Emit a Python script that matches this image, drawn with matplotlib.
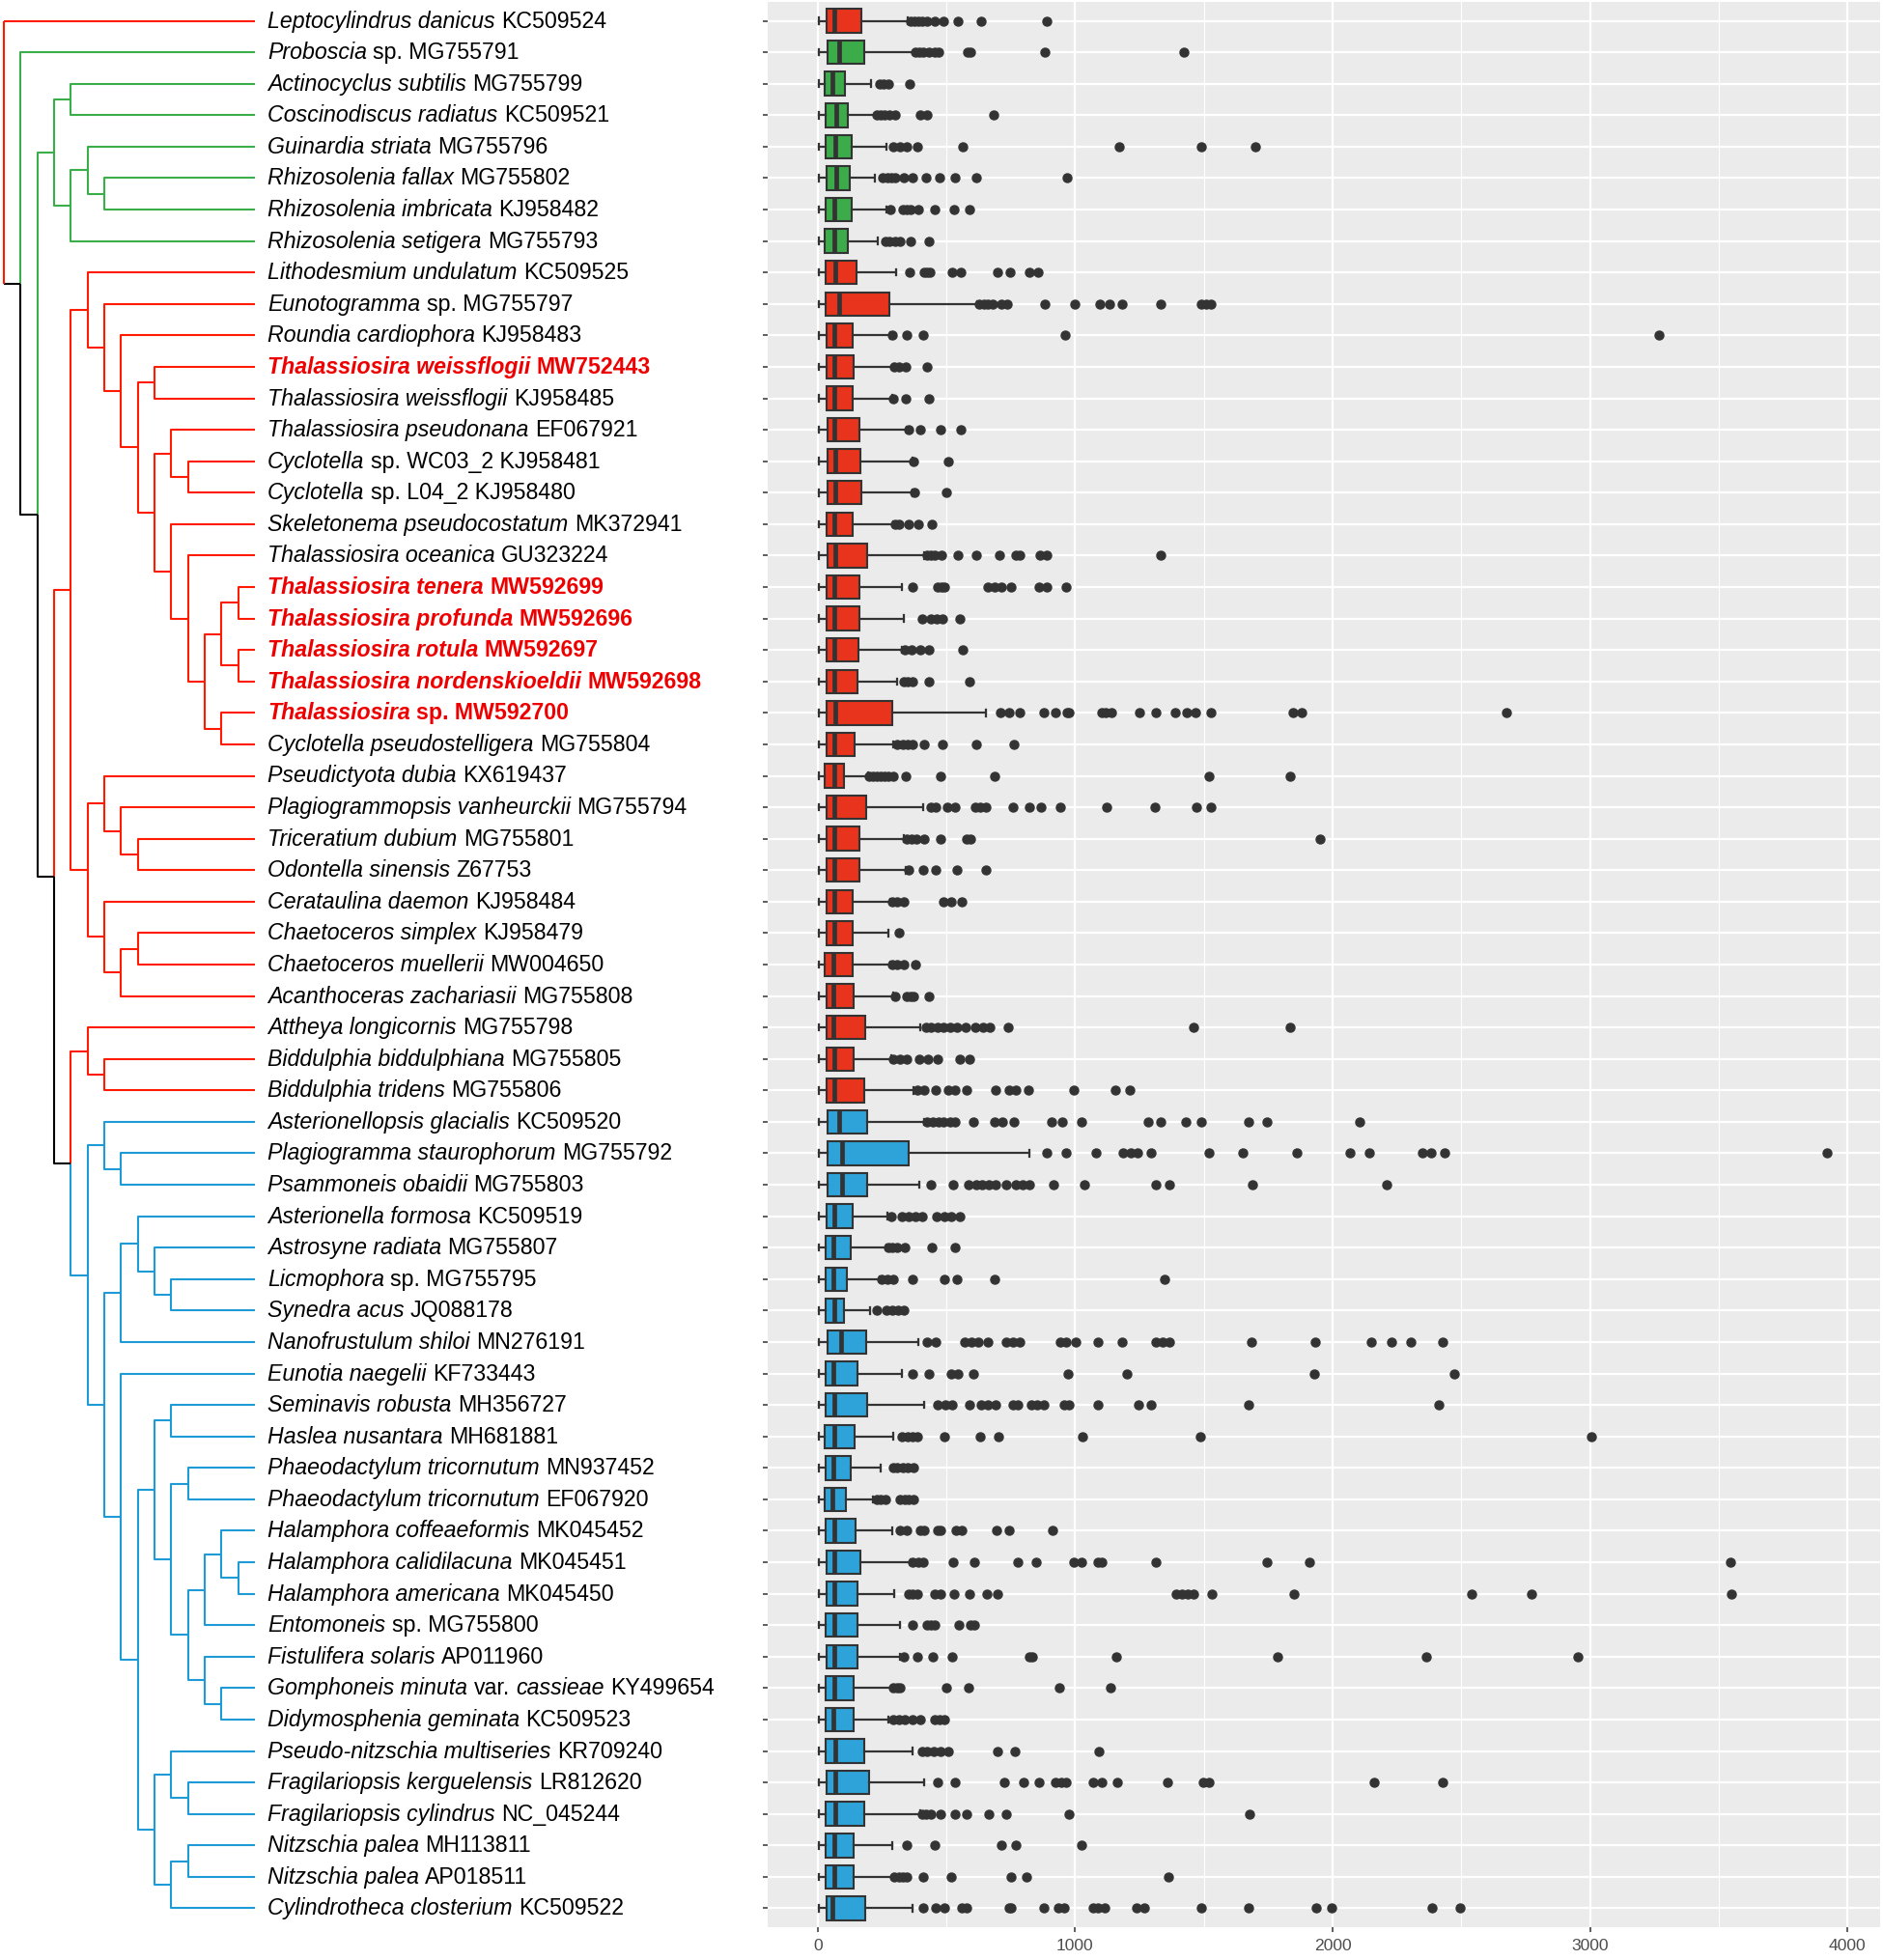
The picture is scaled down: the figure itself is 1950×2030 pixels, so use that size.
import matplotlib
matplotlib.use("Agg")
import matplotlib.pyplot as plt
import numpy as np

plt.rcParams['font.family'] = ['Liberation Sans', 'DejaVu Sans']

# tip labels, top to bottom; *...* marks the italic part
labels = [
    "*Leptocylindrus danicus* KC509524", "*Proboscia* sp. MG755791",
    "*Actinocyclus subtilis* MG755799", "*Coscinodiscus radiatus* KC509521",
    "*Guinardia striata* MG755796", "*Rhizosolenia fallax* MG755802",
    "*Rhizosolenia imbricata* KJ958482", "*Rhizosolenia setigera* MG755793",
    "*Lithodesmium undulatum* KC509525", "*Eunotogramma* sp. MG755797",
    "*Roundia cardiophora* KJ958483", "*Thalassiosira weissflogii* MW752443",
    "*Thalassiosira weissflogii* KJ958485", "*Thalassiosira pseudonana* EF067921",
    "*Cyclotella* sp. WC03_2 KJ958481", "*Cyclotella* sp. L04_2 KJ958480",
    "*Skeletonema pseudocostatum* MK372941", "*Thalassiosira oceanica* GU323224",
    "*Thalassiosira tenera* MW592699", "*Thalassiosira profunda* MW592696",
    "*Thalassiosira rotula* MW592697", "*Thalassiosira nordenskioeldii* MW592698",
    "*Thalassiosira* sp. MW592700", "*Cyclotella pseudostelligera* MG755804",
    "*Pseudictyota dubia* KX619437", "*Plagiogrammopsis vanheurckii* MG755794",
    "*Triceratium dubium* MG755801", "*Odontella sinensis* Z67753",
    "*Cerataulina daemon* KJ958484", "*Chaetoceros simplex* KJ958479",
    "*Chaetoceros muellerii* MW004650", "*Acanthoceras zachariasii* MG755808",
    "*Attheya longicornis* MG755798", "*Biddulphia biddulphiana* MG755805",
    "*Biddulphia tridens* MG755806", "*Asterionellopsis glacialis* KC509520",
    "*Plagiogramma staurophorum* MG755792", "*Psammoneis obaidii* MG755803",
    "*Asterionella formosa* KC509519", "*Astrosyne radiata* MG755807",
    "*Licmophora* sp. MG755795", "*Synedra acus* JQ088178",
    "*Nanofrustulum shiloi* MN276191", "*Eunotia naegelii* KF733443",
    "*Seminavis robusta* MH356727", "*Haslea nusantara* MH681881",
    "*Phaeodactylum tricornutum* MN937452", "*Phaeodactylum tricornutum* EF067920",
    "*Halamphora coffeaeformis* MK045452", "*Halamphora calidilacuna* MK045451",
    "*Halamphora americana* MK045450", "*Entomoneis* sp. MG755800",
    "*Fistulifera solaris* AP011960", "*Gomphoneis minuta* var. *cassieae* KY499654",
    "*Didymosphenia geminata* KC509523", "*Pseudo-nitzschia multiseries* KR709240",
    "*Fragilariopsis kerguelensis* LR812620", "*Fragilariopsis cylindrus* NC_045244",
    "*Nitzschia palea* MH113811", "*Nitzschia palea* AP018511",
    "*Cylindrotheca closterium* KC509522",
]
highlight = [11, 18, 19, 20, 21, 22]

# clade of each tip: r / g / b
groups = list("rggggggg" + "r" * 27 + "b" * 26)

# tree topology (tip indices), drawn as a cladogram
tree = (0, (1, (
    ((2, 3), ((4, (5, 6)), 7)),
    (
        ((8, (9, (10, ((11, 12), ((13, (14, 15)),
                                  (16, (17, (((18, 19), (20, 21)), (22, 23))))))))),
         ((24, (25, (26, 27))), (28, ((29, 30), 31)))),
        ((32, (33, 34)),
         ((35, (36, 37)),
          (((38, (39, (40, 41))), 42),
           (43, (((44, 45), ((46, 47), (((48, (49, 50)), 51), (52, (53, 54))))),
                 ((55, (56, 57)), ((58, 59), 60)))))))
    )
)))

# boxplot statistics per tip
q1 = [34, 40, 27, 32, 31, 34, 30, 29, 30, 31,
      34, 34, 34, 37, 37, 37, 34, 37, 34, 34,
      34, 34, 34, 34, 26, 34, 34, 34, 34, 34,
      29, 34, 34, 34, 34, 40, 40, 40, 34, 32,
      32, 32, 37, 32, 32, 26, 32, 29, 32, 34,
      34, 32, 34, 32, 32, 32, 34, 32, 32, 32, 34]
med = [66, 82, 56, 72, 70, 72, 66, 66, 69, 84,
       64, 64, 64, 64, 69, 69, 66, 69, 64, 66,
       64, 64, 69, 64, 64, 64, 64, 64, 64, 64,
       61, 61, 61, 64, 64, 85, 93, 93, 64, 61,
       61, 66, 90, 61, 64, 64, 61, 56, 64, 64,
       64, 64, 64, 64, 61, 69, 69, 69, 64, 64, 56]
q3 = [169, 181, 106, 116, 134, 125, 134, 116, 150, 278,
      135, 138, 135, 162, 167, 170, 135, 193, 162, 164,
      159, 154, 289, 143, 101, 188, 162, 164, 135, 135,
      135, 140, 183, 140, 180, 193, 355, 193, 135, 127,
      114, 103, 188, 154, 193, 143, 127, 109, 148, 167,
      156, 156, 156, 138, 140, 180, 201, 180, 138, 138, 183]
whislo = [5] * 61
whishi = [350, 375, 207, 228, 269, 221, 269, 235, 304, 621,
          281, 294, 289, 347, 368, 370, 294, 413, 328, 334,
          326, 307, 652, 294, 196, 408, 334, 342, 281, 275,
          281, 294, 400, 286, 373, 413, 824, 395, 272, 268,
          241, 204, 392, 328, 413, 294, 246, 215, 289, 360,
          299, 320, 320, 289, 275, 368, 413, 400, 289, 294, 368]
fliers = [
    [360, 375, 390, 405, 426, 453, 490, 546, 633, 890],
    [381, 395, 410, 431, 456, 470, 581, 594, 882, 1421],
    [241, 256, 275, 356],
    [231, 245, 260, 280, 300, 400, 426, 684],
    [294, 320, 347, 387, 562, 1171, 1491, 1700],
    [254, 270, 285, 300, 334, 368, 421, 474, 535, 617, 967],
    [281, 331, 345, 362, 390, 453, 531, 588],
    [262, 280, 300, 321, 360, 431],
    [359, 412, 425, 437, 522, 556, 700, 746, 822, 855],
    [629, 645, 660, 681, 712, 737, 884, 1000, 1096, 1134, 1181, 1332, 1490, 1510, 1526],
    [290, 347, 408, 962, 3269],
    [299, 315, 342, 426],
    [295, 342, 434],
    [352, 400, 479, 556],
    [373, 506],
    [376, 498],
    [300, 315, 355, 392, 445],
    [426, 440, 455, 480, 546, 615, 705, 771, 784, 864, 890, 1332],
    [368, 466, 480, 493, 660, 686, 712, 750, 858, 890, 964],
    [405, 440, 462, 485, 554],
    [340, 365, 400, 432, 564],
    [334, 350, 368, 432, 588],
    [710, 744, 784, 877, 925, 970, 977, 1102, 1120, 1142, 1248, 1314, 1388, 1433,
     1468, 1526, 1846, 1881, 2675],
    [307, 330, 350, 368, 413, 485, 615, 763],
    [201, 215, 230, 245, 260, 275, 294, 344, 479, 689, 1520, 1833],
    [440, 460, 505, 532, 612, 630, 652, 760, 824, 869, 943, 1121, 1309, 1470, 1526],
    [347, 365, 385, 413, 479, 580, 593, 1952],
    [355, 408, 458, 540, 652],
    [290, 310, 334, 487, 519, 559],
    [315],
    [289, 310, 334, 381],
    [302, 347, 360, 373, 432],
    [421, 440, 465, 490, 515, 540, 575, 612, 644, 670, 739, 1460, 1836],
    [294, 320, 347, 395, 430, 466, 551, 591],
    [387, 413, 458, 506, 532, 577, 691, 744, 771, 819, 996, 1155, 1213],
    [426, 447, 468, 490, 515, 532, 604, 686, 718, 763, 909, 951, 1025, 1282, 1332,
     1428, 1489, 1672, 1746, 2103],
    [890, 964, 1081, 1187, 1215, 1242, 1295, 1521, 1650, 1862, 2069, 2143, 2347,
     2382, 2434, 3921],
    [440, 525, 585, 617, 640, 665, 692, 731, 771, 797, 824, 917, 1036, 1314, 1367,
     1690, 2209],
    [285, 326, 352, 378, 405, 461, 493, 519, 551],
    [275, 290, 307, 339, 445, 532],
    [250, 270, 294, 368, 493, 540, 686, 1348],
    [228, 268, 290, 312, 334],
    [426, 458, 572, 598, 625, 660, 731, 757, 784, 943, 965, 1004, 1089, 1181, 1314,
     1340, 1367, 1685, 1931, 2148, 2228, 2302, 2426],
    [368, 434, 519, 545, 604, 972, 1200, 1928, 2474],
    [466, 495, 524, 591, 633, 660, 691, 758, 779, 829, 853, 877, 956, 977, 1089,
     1245, 1295, 1674, 2413],
    [328, 350, 370, 387, 493, 631, 702, 1028, 1486, 3004],
    [294, 310, 330, 350, 373],
    [228, 245, 262, 320, 340, 355, 373],
    [320, 345, 400, 413, 466, 479, 537, 559, 694, 744, 914],
    [368, 390, 408, 527, 607, 779, 850, 996, 1023, 1089, 1102, 1314, 1746, 1910, 3544],
    [352, 370, 387, 453, 479, 530, 591, 657, 699, 1393, 1415, 1438, 1460, 1531,
     1849, 2540, 2771, 3550],
    [368, 426, 440, 453, 548, 593, 607],
    [334, 387, 448, 522, 824, 832, 1160, 1785, 2363, 2951],
    [294, 310, 320, 498, 585, 938, 1139],
    [294, 315, 339, 368, 400, 453, 475, 493],
    [405, 425, 450, 478, 506, 697, 766, 1091],
    [466, 532, 726, 800, 858, 925, 945, 964, 1070, 1102, 1163, 1359, 1499, 1520,
     2162, 2426],
    [405, 420, 440, 479, 532, 577, 665, 734, 977, 1677],
    [347, 456, 713, 771, 1025],
    [299, 315, 330, 347, 408, 519, 752, 811, 1364],
    [408, 458, 493, 559, 577, 744, 752, 877, 935, 956, 1070, 1090, 1115, 1240, 1269,
     1489, 1674, 1936, 1997, 2387, 2493],
]

tree_col = {'r': '#FF1A00', 'g': '#3AAF49', 'b': '#1E9BD7', 'mix': '#000000'}
box_col = {'r': '#E8341C', 'g': '#3CAB4A', 'b': '#2EA3D9'}
label_red = '#EE0000'
dark = '#333333'

W, H = 1950, 2031
n = len(labels)
fig = plt.figure(figsize=(W / 100, H / 100), dpi=100)
bottom, top = (H - 1997) / H, (H - 3) / H
ax = fig.add_axes([795 / W, bottom, (1947 - 795) / W, top - bottom])
axt = fig.add_axes([0, bottom, 795 / W, top - bottom])
ylim = (n - 1 + 0.6, -0.6)

# ---- boxplots ----
stats = []
for i in range(n):
    stats.append(dict(q1=q1[i], med=med[i], q3=q3[i], whislo=whislo[i],
                      whishi=whishi[i], fliers=fliers[i]))
bp = ax.bxp(stats, positions=np.arange(n), widths=0.75, orientation='horizontal',
            patch_artist=True, capwidths=0.2, manage_ticks=False,
            boxprops=dict(edgecolor=dark, linewidth=1.5),
            whiskerprops=dict(color=dark, linewidth=1.6),
            capprops=dict(color=dark, linewidth=1.6),
            medianprops=dict(color=dark, linewidth=3.4, solid_capstyle='butt'),
            flierprops=dict(marker='o', markerfacecolor=dark, markeredgecolor=dark,
                            markersize=6.5, linestyle='none'))
for patch, g in zip(bp['boxes'], groups):
    patch.set_facecolor(box_col[g])

ax.set_facecolor('#EBEBEB')
ax.set_xlim(-194, 4126)
ax.set_ylim(*ylim)
ax.set_xticks([0, 1000, 2000, 3000, 4000])
ax.set_xticks([500, 1500, 2500, 3500], minor=True)
ax.set_yticks(np.arange(n))
ax.set_yticklabels([])
ax.grid(which='major', color='white', linewidth=1.6)
ax.grid(which='minor', axis='x', color='white', linewidth=0.8)
ax.set_axisbelow(True)
for s in ax.spines.values():
    s.set_visible(False)
ax.tick_params(axis='both', which='major', length=3.6, width=1.1, color=dark,
               labelsize=12.6, labelcolor='#4D4D4D', pad=4)
ax.tick_params(which='minor', length=0)

# ---- tree ----
LEAF = 15
lw_tree = 1.5


def clade_colour(gs):
    return tree_col[next(iter(gs))] if len(gs) == 1 else tree_col['mix']


def draw(node, depth):
    if isinstance(node, int):
        return float(node), {groups[node]}
    kids = [draw(c, depth + 1) for c in node]
    y = np.mean([k[0] for k in kids])
    gs = set().union(*[k[1] for k in kids])
    for child, (cy, cg) in zip(node, kids):
        cx = LEAF if isinstance(child, int) else depth + 1
        col = clade_colour(cg)
        if depth == 0:
            axt.plot([depth, cx], [cy, cy], color=col, lw=lw_tree, solid_capstyle='butt')
        else:
            axt.plot([depth, depth, cx], [y, cy, cy], color=col, lw=lw_tree,
                     solid_capstyle='butt')
    if depth == 0:
        ys = [k[0] for k in kids]
        axt.plot([0, 0], [min(ys), max(ys)], color=tree_col['r'], lw=lw_tree,
                 solid_capstyle='butt')
    return y, gs


draw(tree, 0)

px_per_level = (264 - 4) / LEAF
axt.set_xlim(-4 / px_per_level, (795 - 4) / px_per_level)
axt.set_ylim(*ylim)
axt.axis('off')

text_x = (277 - 4) / px_per_level
fs = 16.7
space = 0.278 * fs
for i, lab in enumerate(labels):
    bold = i in highlight
    colour = label_red if bold else 'black'
    prev = None
    for k, part in enumerate(lab.split('*')):
        part = part.strip()
        if not part:
            continue
        kw = dict(fontsize=fs, fontstyle='italic' if k % 2 else 'normal',
                  fontweight='bold' if bold else 'normal', color=colour,
                  ha='left', annotation_clip=False)
        if prev is None:
            prev = axt.annotate(part, xy=(text_x, i), xycoords='data',
                                xytext=(0, -4.3), textcoords='offset points',
                                va='baseline', **kw)
        else:
            prev = axt.annotate(part, xy=(1, 0), xycoords=prev,
                                xytext=(space, 0), textcoords='offset points',
                                va='bottom', **kw)

fig.savefig('out.png', dpi=100)
